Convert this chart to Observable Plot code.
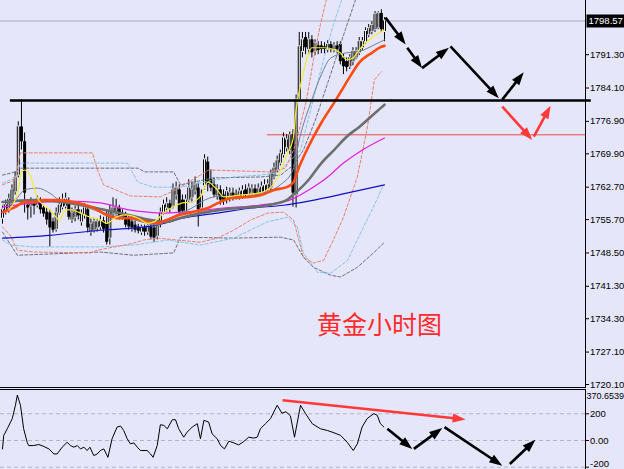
<!DOCTYPE html>
<html><head><meta charset="utf-8">
<script src="https://cdn.jsdelivr.net/npm/d3@7"></script>
<script src="https://cdn.jsdelivr.net/npm/@observablehq/plot@0.6"></script>
<style>
html,body{margin:0;padding:0;background:#e6e6fa;}
#chart{position:relative;width:624px;height:469px;overflow:hidden;background:#e6e6fa;}
#chart svg{display:block;}
</style></head><body><div id="chart"></div>
<script>
// ---- candle data (hourly gold) ----
const open = [1756.0,1757.3,1758.0,1759.3,1761.7,1765.3,1775.7,1772.5,1758.8,1758.6,
1759.1,1758.8,1759.3,1758.2,1757.3,1757.1,1755.2,1753.6,1757.1,1758.4,
1758.6,1759.1,1755.6,1756.2,1757.8,1755.2,1756.7,1757.8,1753.0,1753.4,
1753.9,1754.1,1755.4,1754.7,1751.7,1756.9,1757.3,1758.0,1756.9,1756.7,
1755.8,1755.2,1754.5,1754.1,1753.0,1753.9,1753.0,1754.1,1753.9,1752.1,
1754.7,1757.3,1758.2,1759.1,1758.6,1761.0,1762.1,1759.9,1757.5,1759.9,
1760.4,1761.9,1762.5,1758.2,1763.0,1768.1,1764.3,1763.2,1760.8,1762.1,
1761.0,1759.9,1760.4,1761.4,1760.6,1760.6,1760.8,1762.1,1761.0,1761.4,
1762.3,1761.2,1761.4,1761.7,1762.1,1762.5,1764.9,1766.4,1767.9,1769.7,
1771.2,1770.7,1774.0,1761.0,1781.6,1792.0,1795.0,1792.4,1794.5,1792.0,
1793.2,1793.2,1793.0,1792.4,1793.5,1792.4,1793.2,1793.5,1790.6,1789.8,
1788.7,1789.8,1790.6,1791.7,1792.8,1794.1,1795.6,1796.3,1796.7,1797.1,
1800.2,1796.3];
const close = [1757.8,1758.8,1760.1,1762.1,1764.7,1775.7,1772.5,1761.4,1758.2,1759.1,
1758.6,1760.1,1757.8,1756.9,1755.6,1753.9,1753.4,1757.1,1758.8,1759.9,
1760.1,1756.2,1757.1,1757.8,1756.5,1756.9,1758.2,1753.9,1754.7,1755.2,
1755.2,1755.4,1753.6,1750.8,1757.5,1758.2,1758.2,1756.2,1756.2,1754.5,
1754.1,1753.9,1753.4,1753.2,1753.9,1753.0,1754.3,1751.9,1751.7,1754.3,
1757.1,1758.8,1759.1,1758.0,1762.1,1762.5,1757.3,1757.5,1759.9,1762.5,
1762.1,1763.4,1757.8,1760.8,1768.6,1763.2,1762.5,1761.0,1762.1,1759.9,
1759.9,1761.7,1761.4,1760.4,1761.0,1761.7,1761.9,1761.0,1762.5,1762.3,
1761.2,1762.3,1762.7,1763.0,1763.2,1765.5,1766.8,1768.4,1769.9,1773.3,
1772.9,1773.8,1761.4,1781.6,1793.0,1794.5,1792.8,1794.5,1791.7,1793.7,
1792.2,1792.4,1792.4,1793.5,1792.4,1793.2,1792.4,1789.8,1788.7,1788.5,
1790.6,1792.0,1792.0,1794.1,1794.1,1796.3,1796.9,1797.6,1800.0,1800.2,
1796.7,1798.57];
const high = [1758.6,1759.9,1761.2,1763.2,1766.0,1776.8,1781.6,1774.4,1759.9,1760.4,
1759.9,1760.8,1760.4,1758.8,1758.2,1757.8,1756.0,1758.2,1760.4,1761.2,
1761.4,1760.4,1758.2,1758.6,1758.8,1757.8,1759.1,1758.6,1755.8,1756.0,
1755.8,1756.5,1756.2,1757.8,1758.8,1760.4,1760.1,1758.8,1757.8,1757.3,
1756.7,1756.0,1755.4,1754.7,1754.5,1754.5,1754.9,1755.2,1754.7,1755.2,
1758.2,1759.9,1760.4,1759.9,1763.4,1763.8,1763.2,1761.0,1761.0,1764.3,
1763.8,1764.9,1763.6,1762.1,1769.7,1769.2,1766.4,1764.7,1763.2,1763.0,
1762.1,1762.7,1762.5,1762.5,1762.1,1762.5,1763.0,1763.2,1763.4,1763.2,
1763.2,1763.4,1763.8,1764.3,1764.3,1766.4,1767.9,1769.4,1770.7,1774.4,
1774.0,1774.6,1775.1,1782.6,1796.1,1796.1,1796.1,1796.1,1795.4,1794.5,
1794.1,1794.1,1793.9,1794.3,1794.1,1793.9,1794.1,1794.1,1791.5,1790.6,
1791.3,1792.8,1792.8,1795.0,1795.0,1797.1,1797.8,1798.4,1800.6,1800.6,
1801.0,1799.3];
const low = [1754.7,1756.7,1757.1,1758.6,1761.0,1764.7,1770.7,1757.1,1755.6,1756.0,
1756.7,1758.2,1756.9,1756.2,1754.5,1749.8,1752.8,1753.0,1756.7,1757.8,
1758.0,1755.6,1754.9,1755.2,1755.6,1754.3,1755.8,1752.8,1752.1,1752.8,
1753.0,1753.4,1752.8,1750.2,1750.2,1756.0,1756.7,1755.6,1755.6,1753.9,
1753.4,1753.0,1752.8,1752.6,1752.3,1752.1,1752.3,1751.3,1750.8,1751.3,
1753.9,1756.7,1757.3,1757.1,1758.0,1759.9,1756.5,1756.7,1756.7,1759.3,
1759.3,1761.0,1754.1,1757.3,1762.1,1761.7,1761.7,1760.4,1759.9,1758.8,
1758.8,1759.1,1759.5,1759.7,1759.9,1759.9,1760.1,1760.4,1760.4,1760.8,
1760.6,1760.6,1760.8,1761.0,1761.4,1761.9,1764.3,1765.8,1767.3,1769.0,
1770.3,1769.7,1758.4,1758.2,1781.1,1790.6,1791.3,1791.3,1790.6,1791.1,
1791.3,1791.5,1791.5,1791.7,1791.7,1791.7,1791.5,1789.1,1787.0,1787.6,
1788.1,1788.9,1790.2,1791.1,1792.0,1793.5,1795.0,1795.6,1796.1,1796.7,
1796.1,1794.1];

// ---- moving averages: [bar index, price] ----
const maYellow = [[2,1757.8],[4,1759.9],[5,1762.1],[6,1766.0],[7,1766.4],[9,1764.9],[10,1762.5],[11,1760.4],[13,1758.8],[15,1757.8],[17,1756.2],[18,1755.6],[20,1757.8],[22,1757.8],[24,1757.3],[26,1756.7],[28,1756.2],[31,1755.6],[33,1754.9],[36,1756.2],[39,1756.7],[43,1756.0],[46,1754.9],[48,1755.2],[51,1757.1],[54,1758.4],[57,1759.3],[60,1759.5],[63,1761.0],[65,1763.8],[68,1762.1],[70,1760.6],[75,1761.0],[81,1761.4],[85,1762.7],[88,1766.0],[90,1769.7],[92,1772.9],[93,1779.4],[95,1786.5],[97,1791.7],[98,1792.8],[102,1792.8],[105,1792.4],[107,1791.7],[109,1790.2],[111,1790.6],[113,1792.4],[117,1795.0],[121,1796.7]];
const maSlate = [[0,1758.8],[4,1759.9],[7,1762.1],[11,1762.5],[15,1761.4],[18,1759.9],[25,1758.8],[31,1757.3],[37,1756.5],[44,1755.2],[49,1754.5],[53,1756.0],[60,1758.2],[64,1759.9],[69,1760.8],[75,1760.6],[82,1761.4],[88,1763.2],[92,1766.4],[94,1772.9],[98,1781.6],[101,1787.0],[104,1790.6],[109,1791.7],[113,1792.0],[118,1793.5],[121,1794.5]];
const maOrange = [[0,1757.3],[4,1758.4],[7,1759.5],[10,1759.5],[13,1759.9],[17,1759.9],[24,1759.3],[29,1758.2],[33,1756.7],[37,1756.0],[41,1756.0],[46,1755.2],[49,1754.9],[52,1755.6],[56,1756.7],[60,1757.3],[65,1758.2],[69,1759.5],[73,1760.4],[78,1760.6],[82,1761.0],[86,1762.1],[90,1762.7],[92,1763.6],[94,1767.1],[98,1772.9],[101,1776.6],[105,1780.9],[107,1783.1],[110,1786.5],[113,1789.6],[117,1791.7],[120,1793.0],[121,1793.2]];
const maGray = [[0,1759.5],[10,1759.9],[21,1759.3],[31,1758.0],[40,1756.7],[47,1755.6],[52,1755.2],[56,1756.0],[63,1757.1],[69,1757.8],[75,1758.2],[84,1758.8],[90,1759.9],[92,1761.0],[97,1764.3],[101,1767.9],[105,1770.7],[109,1773.6],[113,1775.7],[118,1778.7],[121,1780.5]];
const maMagenta = [[0,1758.4],[10,1759.3],[21,1759.7],[31,1759.3],[40,1757.8],[46,1757.3],[51,1757.1],[57,1757.3],[70,1758.2],[81,1758.8],[91,1759.9],[97,1762.1],[103,1764.9],[108,1767.9],[113,1770.3],[121,1773.3]];
const maBlue = [[0,1751.7],[15,1752.3],[31,1753.4],[42,1753.9],[49,1754.5],[57,1756.0],[68,1757.1],[79,1758.2],[89,1758.8],[97,1759.7],[109,1761.4],[121,1763.2]];

// ---- envelope / band lines (dashed) ----
const bandRedUp = [[0,1763.2],[4.1,1764.3],[5.1,1768.6],[5.7,1770.1],[28.5,1770.1],[30.1,1766.4],[32,1763.2],[40.5,1760.8],[50,1760.6],[54.8,1762.1],[62.7,1765.3],[65.3,1766.4],[84.9,1766.0],[89.6,1766.8],[92.2,1770.7],[94.4,1776.2],[96.3,1781.6],[98.5,1790.2],[100.7,1797.8],[102.6,1803.2],[104,1807]];
const bandRedLo = [[0,1754.1],[2.5,1752.3],[4.7,1749.1],[9.8,1748.7],[27.9,1748.5],[30.1,1749.1],[41.5,1750.6],[44.7,1751.3],[49.1,1751.7],[62.7,1750.8],[68.1,1751.7],[73.2,1753.4],[78.6,1755.6],[83.9,1757.1],[89,1757.3],[92.2,1755.6],[95.3,1747.6],[98.5,1746.3],[101.7,1746.9],[104.8,1751.3],[108,1756.2],[112.4,1764.9],[115.6,1775.7],[117.8,1785.9],[120,1787.6]];
const bandBlueUp = [[0,1763.6],[4.1,1764.7],[5.7,1767.9],[39.6,1767.9],[42.8,1763.8],[47.8,1762.7],[56.4,1762.7],[66.8,1764.2],[73.2,1764.9],[81.7,1765.3],[87.1,1765.8],[90.3,1767.9],[94.4,1770.7],[97.6,1779.4],[101.7,1790.2],[104.8,1797.8],[108,1804.3]];
const bandBlueLo = [[0,1751.3],[2.5,1750.2],[9.8,1749.8],[31,1749.8],[41.5,1750.2],[52.3,1751.3],[62.7,1750.2],[73.2,1751.7],[83.9,1755.2],[90.3,1756.2],[93.4,1754.1],[95.3,1748.5],[99.8,1744.3],[103.9,1744.1],[109.3,1746.9],[113.4,1752.8],[117.5,1758.4],[120.7,1763.2]];
const bandGrayUp = [[0,1765.3],[4.1,1766.0],[5.7,1766.8],[43,1766.8],[45,1766.0],[54.2,1766.0],[56.4,1763.2],[66.8,1764.7],[81.7,1764.9],[88.1,1765.3],[92.2,1767.5],[95.3,1770.7],[99.1,1777.2],[103.9,1787.0],[108.6,1796.7],[112.4,1804.3]];
const bandGrayLo = [[0,1753.0],[4.7,1748.0],[31,1748.7],[41.5,1748.0],[54.2,1748.5],[56.4,1751.9],[73.2,1751.7],[88.1,1751.9],[92.2,1751.3],[95.3,1747.6],[98.5,1745.4],[103.9,1743.7],[107.1,1743.3],[112.4,1745.4],[117.5,1748.5],[120.7,1750.6]];

// ---- levels, ticks, annotations ----
const priceNow = 1798.57;
const resistance = 1781.4, resistanceFrom = 2.5, resistanceTo = 186.5;
const support = 1774.0, supportFrom = 83.9;
const priceTicks = [1720.1,1727.1,1734.3,1741.3,1748.5,1755.7,1762.7,1769.9,1776.9,1784.1,1791.3];
const titleText = "黄金小时图", titleAt = [119.4, 1732.7];
const mainArrowsBlack = [[121.3,1799.3,127.7,1793.5],[128.2,1792.8,132.9,1788.4],[132.9,1788.4,141.4,1792.8],[141.9,1793.1,157.2,1781.9],[158.3,1781.6,165.1,1787.5]];
const mainArrowsRed = [[158.3,1780.1,167.8,1772.9],[168.3,1773.6,173.6,1780.3]];

// ---- CCI sub-window ----
const cci = [[0,-63],[0.4,38],[1.5,88],[3.1,164],[4.1,264],[4.7,340],[5.7,264],[6.7,88],[7.8,-13],[8.3,-38],[9.9,-38],[11.5,-30],[13.1,-45],[14.7,-63],[16.3,-101],[17.3,-101],[18.9,-50],[20.5,-13],[21.5,-38],[22.6,-50],[23.7,-38],[24.7,-63],[25.8,-50],[26.8,-75],[27.7,-50],[28.9,-113],[30,-101],[31,-75],[32.1,-63],[33.4,-126],[34.7,13],[36.3,101],[37.4,108],[38.4,75],[39.5,13],[40.5,-25],[41.6,-18],[42.7,-50],[43.7,-75],[45.8,-75],[46.9,-101],[47.7,-126],[49,-38],[50,118],[51.1,113],[52.2,88],[53.8,156],[54.8,156],[55.8,88],[57.4,25],[58.5,63],[60.1,101],[61.7,126],[62.7,13],[63.8,151],[65.3,138],[66.4,50],[68,13],[69.1,-38],[70.3,-63],[71.7,-5],[73.3,-18],[74.8,-33],[76.4,-8],[78,25],[79.6,18],[80.7,25],[81.7,88],[83.3,126],[84.9,164],[87,264],[88.5,205],[89.8,215],[91.2,185],[92.5,25],[94.4,264],[96,201],[98.1,126],[100.7,88],[102.9,75],[105,58],[107.1,38],[109.2,-13],[111.1,-75],[112.4,-25],[113.9,101],[115.5,164],[117.6,201],[118.7,189],[119.7,126],[120.8,101]];
const cciLevels = [-200, 0, 200];
const cciMax = 370.6539;
const cciArrowsBlack = [[121.9,88,129.8,-63],[130.3,-63,139.3,93],[140,100,158.3,-189],[160.7,-176,168.8,5]];
const cciArrowsRed = [[88.7,302,146.7,158]];

// ---- build ----
const candles = open.map((o, i) => ({i, o, c: close[i], h: high[i], l: low[i]}));
const upBodies = candles.filter(d => d.c - d.o > 0.45);
const pts = a => a.map(([i, v]) => ({i, v}));
const X = {domain: [0, 121], range: [2, 384], axis: null};
const YMAIN = {domain: [1720.1, 1798.57], range: [384, 20.5], axis: null};
const YCCI = {domain: [-200, 200], range: [78.7, 25.3], axis: null};
const font = "'Liberation Sans', Arial, sans-serif";
const sx = d3.scaleLinear(X.domain, X.range);

// filled, elongated arrow head (tip at the origin, pointing up before rotation)
const headSymbol = {draw(ctx) { ctx.moveTo(0, 0); ctx.lineTo(4.6, 13); ctx.lineTo(-4.6, 13); ctx.closePath(); }};
// black tag box drawn to the right of the axis line
const tagSymbol = {draw(ctx) { ctx.rect(1, -6.5, 40, 13); }};

function arrowMarks(data, color, yScaleDef) {
  const sy = d3.scaleLinear(yScaleDef.domain, yScaleDef.range);
  const shafts = [], heads = [];
  for (const [x1, y1, x2, y2] of data) {
    const dx = sx(x2) - sx(x1), dy = sy(y2) - sy(y1), len = Math.hypot(dx, dy);
    const t = Math.max(0, 1 - 9 / len);
    shafts.push({x1, y1, x2: x1 + t * (x2 - x1), y2: y1 + t * (y2 - y1)});
    heads.push({x: x2, y: y2, a: Math.atan2(dy, dx) * 180 / Math.PI + 90});
  }
  return [
    Plot.link(shafts, {x1: "x1", y1: "y1", x2: "x2", y2: "y2", stroke: color, strokeWidth: 2.6, strokeLinecap: "butt"}),
    Plot.dot(heads, {x: "x", y: "y", rotate: "a", symbol: headSymbol, r: 5, fill: color, stroke: "none"})
  ];
}

const dashed = (data, color) => Plot.line(pts(data), {x: "i", y: "v", stroke: color, strokeWidth: 1, strokeDasharray: "3,2", clip: true});
const ma = (data, color, w) => Plot.line(pts(data), {x: "i", y: "v", stroke: color, strokeWidth: w, curve: "monotone-x", clip: true});

const main = Plot.plot({
  width: 624, height: 388,
  marginTop: 0, marginBottom: 1, marginLeft: 0, marginRight: 39,
  x: X, y: YMAIN,
  style: {background: "transparent", fontFamily: font, fontSize: "9.5px", color: "black", overflow: "visible"},
  marks: [
    Plot.ruleY([priceNow], {stroke: "#a9a9b6", strokeWidth: 1}),
    Plot.ruleY([support], {x1: () => supportFrom, x2: () => 184.7, stroke: "#e84848", strokeWidth: 1}),
    Plot.ruleX(candles, {x: "i", y1: "l", y2: "h", stroke: "black", strokeWidth: 1}),
    Plot.ruleX(candles, {x: "i", y1: "o", y2: "c", stroke: "black", strokeWidth: 3}),
    Plot.ruleX(upBodies, {x: "i", y1: "o", y2: "c", stroke: "white", strokeWidth: 1, insetTop: 1, insetBottom: 1}),
    dashed(bandGrayUp, "#707080"), dashed(bandGrayLo, "#707080"),
    dashed(bandBlueUp, "#86c4e4"), dashed(bandBlueLo, "#86c4e4"),
    dashed(bandRedUp, "#e6806c"), dashed(bandRedLo, "#e6806c"),
    ma(maBlue, "#1010c8", 1.2),
    ma(maMagenta, "#e020e0", 1.2),
    ma(maSlate, "#6f7f90", 1),
    ma(maGray, "#6e6e6e", 2.6),
    ma(maOrange, "#ff4a14", 2.6),
    ma(maYellow, "#f4ec30", 1.2),
    Plot.ruleY([resistance], {x1: () => resistanceFrom, x2: () => resistanceTo, stroke: "black", strokeWidth: 2.6}),
    ...arrowMarks(mainArrowsBlack, "black", YMAIN),
    ...arrowMarks(mainArrowsRed, "#ff3838", YMAIN),
    Plot.text([titleText], {x: () => titleAt[0], y: () => titleAt[1], text: d => d, fill: "#ff2a2a", fontSize: 25, fontFamily: "'Noto Sans CJK SC', sans-serif", textAnchor: "middle"}),
    Plot.frame({anchor: "right", stroke: "black"}),
    Plot.frame({anchor: "bottom", stroke: "black"}),
    Plot.axisY(priceTicks, {anchor: "right", tickSize: 3, tickPadding: 1.5, tickFormat: d => d.toFixed(2), fontSize: 9.5}),
    Plot.dot([priceNow], {y: d => d, frameAnchor: "right", symbol: tagSymbol, r: 5, fill: "black", stroke: "none"}),
    Plot.text([priceNow], {y: d => d, frameAnchor: "right", dx: 3, textAnchor: "start", fill: "white", fontSize: 9.5, text: d => d.toFixed(2)})
  ]
});

const sub = Plot.plot({
  width: 624, height: 81,
  marginTop: 1, marginBottom: 0, marginLeft: 0, marginRight: 39,
  x: X, y: YCCI,
  style: {background: "transparent", fontFamily: font, fontSize: "9px", color: "black", overflow: "visible"},
  marks: [
    Plot.ruleY(cciLevels, {stroke: "#b4b4c0", strokeDasharray: "4,3"}),
    Plot.line(pts(cci), {x: "i", y: "v", stroke: "black", strokeWidth: 1}),
    ...arrowMarks(cciArrowsRed, "#ff3838", YCCI),
    ...arrowMarks(cciArrowsBlack, "black", YCCI),
    Plot.frame({anchor: "top", stroke: "black"}),
    Plot.frame({anchor: "right", stroke: "black"}),
    Plot.axisY(cciLevels, {anchor: "right", tickSize: 3, tickPadding: 1.5, tickFormat: d => d === -200 ? "" : d === 0 ? "0.00" : String(d), fontSize: 9.5}),
    Plot.text([-200], {y: d => d, frameAnchor: "right", dx: 4.5, textAnchor: "start", lineAnchor: "bottom", dy: -0.5, fill: "black", fontSize: 9.5, text: d => String(d)}),
    Plot.text([cciMax], {y: d => d, frameAnchor: "right", dx: 1, textAnchor: "start", lineAnchor: "top", dy: 2, fill: "black", fontSize: 9, text: d => d.toFixed(4)})
  ]
});

const host = document.getElementById("chart");
host.appendChild(main);
host.appendChild(sub);
</script>
</body></html>
